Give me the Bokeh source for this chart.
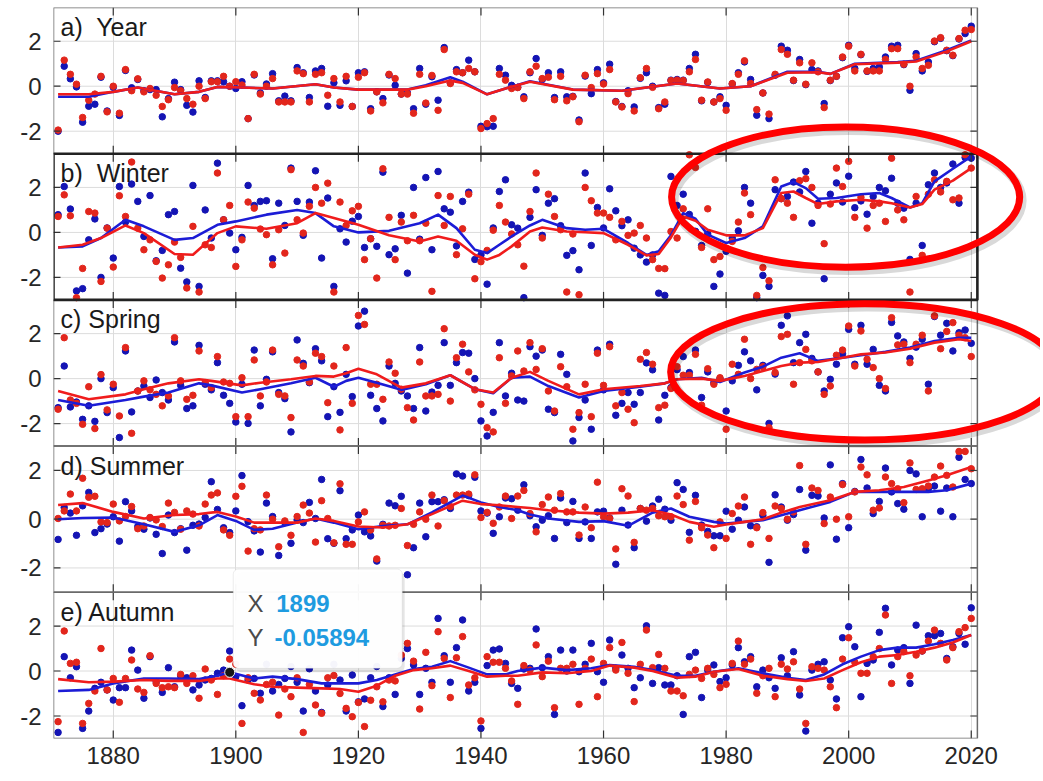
from bokeh.plotting import figure
from bokeh.models import Range1d, LinearAxis, FixedTicker, BoxAnnotation, Label, Grid
from bokeh.embed import file_html
from bokeh.resources import INLINE
from bokeh.core.properties import value

# ---------------- data ----------------
years = list(range(1871, 2021))
x_ticks = [1880, 1900, 1920, 1940, 1960, 1980, 2000, 2020]
y_ticks = [-2, 0, 2]

a_blue = [-2.0, 0.89, 0.33, -0.03, -1.6, -0.89, -0.8, 0.4, -1.1, -0.05,
          -1.3, 0.7, -0.07, 0.3, -0.2, -0.15, -0.15, -1.36, -0.55, 0.18,
          -0.15, -0.85, -1.15, 0.24, -0.5, 0.24, 0.24, 0.2, 0.0, -0.1,
          0.2, -1.44, 0.5, -0.3, 0.1, 0.56, -0.65, -0.44, -0.65, 0.83,
          0.6, -0.5, 0.68, 0.79, -0.89, 0.15, -0.85, 0.24, -0.9, 0.6,
          0.64, -1.0, -0.25, -0.55, 0.5, 0.04, -0.35, -0.3, -1.0, 0.79,
          -0.8, 0.42, -0.62, 1.72, 0.15, 0.74, 0.6, 1.16, 0.64, -1.78,
          -1.8, -1.78, 0.79, 0.49, 0.04, -0.05, -0.47, 0.6, 1.23, 0.3,
          0.6, -0.5, 0.64, -0.47, -0.45, -1.5, 0.45, -0.33, 0.74, 0.15,
          0.98, -0.68, -0.9, -0.2, -0.92, 0.35, 0.6, 0.0, -0.95, -0.8,
          0.27, 0.3, 0.27, 0.79, 1.42, -0.65, 0.17, -0.7, -0.47, -0.85,
          0.1, 0.6, 1.08, 0.3, -1.29, -0.3, -1.44, 0.49, 1.78, 1.6,
          0.25, 1.19, 0.07, 0.74, 0.68, -0.77, 0.25, 0.44, 1.27, 1.82,
          0.79, 1.4, 0.66, 0.79, 0.86, 1.3, 1.78, 1.82, 0.96, -0.18,
          1.45, 0.68, 1.08, 1.98, 2.13, 1.58, 1.36, 2.1, 2.34, 2.67]
a_red = [-1.95, 1.16, 0.53, 0.09, -1.39, -0.62, -0.35, 0.44, -1.14, 0.0,
         -1.2, 0.74, -0.2, 0.33, -0.25, -0.1, -0.4, -0.9, -0.6, -0.06,
         -0.2, -0.55, -0.8, 0.0, -0.55, 0.2, 0.2, 0.44, 0.0, 0.2,
         0.05, -1.44, 0.53, -0.35, 0.0, 0.34, -0.7, -0.7, -0.7, 0.68,
         0.56, -0.7, 0.53, 0.6, -0.4, 0.34, -0.7, 0.44, -0.9, 0.4,
         0.6, -1.1, -0.25, -0.74, 0.53, 0.34, -0.35, -0.35, -1.2, 0.53,
         -0.75, 0.48, -1.07, 1.63, 0.12, 0.64, 0.6, 0.79, 0.64, -1.88,
         -1.66, -1.44, 0.53, 0.27, -0.1, -0.06, -0.55, 0.64, 0.89, 0.34,
         0.4, -0.6, 0.44, -0.65, -0.47, -1.58, 0.49, -0.06, 0.56, 0.1,
         0.74, -0.7, -0.92, -0.33, -1.1, 0.38, 0.79, -0.05, -1.0, -0.7,
         0.25, 0.27, 0.25, 0.64, 1.19, -0.62, 0.19, -0.7, -0.55, -1.07,
         0.12, 0.53, 1.13, 0.12, -1.04, -0.3, -1.24, 0.53, 1.63, 1.42,
         0.27, 1.04, 0.09, 1.04, 0.64, -0.95, 0.27, 0.44, 1.3, 1.78,
         0.68, 1.42, 0.68, 0.68, 0.68, 1.19, 1.67, 1.67, 0.98, 0.0,
         1.3, 0.79, 0.93, 2.01, 2.16, 1.6, 1.38, 2.12, 2.49, 2.52]

b_blue = [0.79, 2.04, 1.04, -2.6, -2.5, -0.33, 0.6, -2.0, 0.2, -1.14,
          2.04, 0.46, 2.15, 1.38, -0.18, 1.64, -1.26, -0.8, 0.79, 0.93,
          -1.59, -2.2, 2.09, -2.4, 1.0, -0.25, 3.08, 0.56, -0.03, -0.77,
          -0.22, 2.09, 1.2, 1.38, 1.41, -1.17, 1.3, 0.31, 2.86, 1.38,
          -0.13, 1.35, 2.74, -1.14, 1.53, -2.4, 0.16, -0.43, 0.5, 0.71,
          -0.67, -0.28, -0.62, 2.68, -0.99, -0.73, 0.76, -1.81, 2.0, -0.3,
          2.44, -0.77, 2.71, 1.05, 0.9, -0.6, 1.38, 1.79, -1.2, -1.0,
          -2.3, 0.2, 1.82, 2.34, 0.34, 0.19, -2.9, 0.67, 1.9, -0.13,
          1.3, 1.5, 0.3, -1.02, -0.81, -1.66, 2.64, -0.58, 1.11, 0.2,
          1.94, 0.96, 0.3, 0.56, -0.7, -1.0, -1.32, -1.0, -2.7, -2.8,
          2.49, 1.2, 1.7, 0.8, 0.05, -0.58, -0.07, -2.4, -1.85, -0.84,
          -0.25, 0.07, 2.0, 1.3, -2.9, -1.91, -2.4, 1.9, 1.5, 1.6,
          2.24, 1.8, 2.71, 0.41, 1.3, -2.06, 1.7, 2.2, 1.35, 2.5,
          1.1, 1.4, 0.81, 1.6, 2.0, 1.85, 2.41, 1.3, 1.08, -1.2,
          1.3, -0.58, 2.12, 2.64, 2.0, 2.2, 3.04, 1.3, 3.33, 3.3]
b_red = [0.71, 1.67, 0.74, -2.9, -1.6, 0.93, 0.86, -2.18, 0.19, -1.54,
         1.63, 0.71, 3.13, 0.19, -0.77, -0.33, -1.29, -2.03, -1.44, -0.43,
         -1.11, -2.47, 0.27, -2.65, -0.55, -0.67, 2.64, 0.56, 1.2, -1.51,
         -0.33, 1.35, 1.08, 0.15, -0.1, -1.44, 0.12, -0.92, 2.79, 0.56,
         -0.03, 1.16, 2.0, 1.3, 2.19, -2.65, 1.35, 0.31, 0.96, 1.16,
         -1.21, -0.28, -2.03, 2.83, 0.67, -1.21, 0.46, -0.37, 0.76, -0.37,
         0.41, -2.62, 1.64, 0.31, 1.6, -0.99, 0.16, 1.7, -2.06, -1.3,
         -0.8, 0.1, 1.2, 0.46, -0.07, -0.55, -1.5, 0.93, 2.64, -0.25,
         1.7, 0.71, 0.12, -2.65, -0.07, -2.77, 2.0, 1.41, 0.86, 0.86,
         0.67, -0.33, 0.49, -0.13, -0.03, 0.31, -0.25, -1.21, -1.6, -1.61,
         0.04, -0.25, 1.05, 3.45, 2.89, -0.67, 1.05, -1.21, -1.07, -0.7,
         -0.4, 0.46, 1.75, 0.79, -2.8, -1.56, -2.15, 2.34, 1.5, 1.3,
         0.67, 2.3, 2.39, 2.0, 1.2, -0.5, 1.26, 2.86, 2.04, 3.16,
         0.67, 1.56, 0.19, 1.2, 1.3, 0.49, 3.3, 1.0, 0.56, -2.65,
         1.6, -1.02, 1.7, 2.34, 1.8, 2.27, 1.45, 1.53, 3.45, 2.86]

c_blue = [-1.29, 0.56, -1.26, -1.04, -1.81, -1.21, -1.9, 0.0, -1.51, -0.4,
          -2.62, 1.23, -1.48, -0.55, -0.33, -0.84, -0.06, -0.62, -0.95, 1.63,
          -0.3, -1.33, -1.21, 1.48, -0.25, -0.5, 0.71, -0.74, -1.1, -1.93,
          -0.25, -1.99, 1.27, -1.21, -0.03, 1.19, -0.62, -0.89, -2.37, 1.72,
          0.68, -0.18, 1.33, 0.79, -1.69, -0.36, -1.5, 0.19, -0.8, 2.34,
          3.0, -0.74, -1.33, -1.88, 0.56, -0.21, -0.55, -0.77, -1.33, 1.38,
          -1.44, -0.6, -0.3, 1.6, -0.3, 0.71, 1.16, 1.13, 0.0, -1.88,
          -2.55, -1.5, 1.6, -0.77, 0.24, -0.95, -1.0, 1.42, 1.0, 1.27,
          -1.36, -1.51, 1.08, 0.19, -2.77, -1.73, -0.95, -2.25, 1.27, -0.5,
          1.53, -1.63, -1.1, -0.62, -1.14, -0.62, 0.7, 0.39, -1.84, -0.74,
          -0.4, 0.4, 0.98, 0.27, 1.27, -0.84, 0.3, -0.18, 0.0, -1.44,
          -0.1, 0.59, 1.19, 0.79, -0.5, 0.59, -1.99, 0.2, 2.37, 2.79,
          0.71, 1.6, 1.97, 0.9, 0.3, -0.55, -0.03, 0.64, 1.1, 2.19,
          0.64, 2.37, 0.64, 1.3, -0.3, -0.55, 2.5, 1.9, 1.63, 0.9,
          1.4, 1.75, -0.25, 2.76, 1.93, 2.46, 1.23, 2.04, 2.16, 1.57]
c_red = [-1.36, 1.82, -0.95, -1.1, -2.03, -0.36, -2.22, 0.18, -1.39, -0.25,
         -1.66, 1.38, -2.43, -0.55, -0.1, -0.5, -0.7, -1.21, -0.77, 1.82,
         -0.1, -0.92, -0.74, 1.23, -0.18, -0.4, 0.98, -0.15, -0.21, -1.69,
         0.04, -1.69, 0.83, -0.77, -0.15, 1.27, -0.7, -0.77, -1.73, 0.83,
         0.56, -0.15, 1.13, 0.98, -1.07, 0.56, -2.28, 1.38, -1.1, 2.81,
         2.41, -0.25, -0.25, -0.92, 0.74, 0.24, -0.47, -1.29, -1.84, 0.74,
         -0.77, -0.77, -0.7, 2.22, -1.0, 0.93, 1.53, 0.3, -0.5, -1.14,
         -2.18, -2.37, 0.93, -1.1, 0.12, 1.23, 0.34, 1.6, 0.41, 1.33,
         -0.55, -1.44, 0.53, -0.36, -2.25, -1.51, -0.25, -1.69, 1.13, -0.3,
         1.42, -1.21, -0.62, -1.36, -1.96, 0.86, 1.16, 0.64, -1.29, -1.18,
         -0.44, 0.53, 0.15, 0.15, 1.08, -1.18, 0.44, -0.25, 0.04, -2.25,
         0.64, 0.19, 1.75, 0.0, 0.41, 0.53, -2.18, 0.27, 1.87, 1.97,
         -0.25, 0.71, 1.3, 0.79, 0.3, -0.7, -0.33, 1.04, 1.27, 2.34,
         0.56, 2.12, 0.86, 0.49, 0.0, -0.44, 2.71, 1.5, 1.53, 0.71,
         1.53, 1.93, -0.55, 2.79, 1.33, 2.1, 2.49, 1.93, 1.82, 0.98]

d_blue = [-0.83, 0.48, 0.25, -0.66, 0.55, 1.1, -0.55, -0.39, -0.2, 0.1,
          -0.9, 0.72, 0.34, -0.3, -0.41, 0.05, -0.62, -1.41, 0.17, -0.55,
          -0.39, -1.27, -0.25, -0.2, 0.07, 1.54, 0.4, -0.35, -0.55, 0.34,
          1.79, -0.1, -0.48, -1.35, 0.66, 0.11, -1.49, -0.14, -0.99, -0.03,
          -0.14, 0.69, 0.03, 1.63, -0.8, -0.99, 1.17, -0.8, -0.44, 0.17,
          -0.52, -0.69, -1.72, -0.21, 0.66, 0.55, 0.94, -2.28, -1.17, 0.66,
          -0.72, 0.72, 0.72, 0.8, 0.44, 1.86, 1.77, 0.97, 1.72, 0.34,
          0.25, -0.58, 0.1, 0.87, 0.84, 0.37, 1.41, 0.14, -0.31, -0.04,
          0.14, -0.79, 0.87, -0.14, 0.73, -0.79, -0.11, -0.79, 0.3, 0.33,
          0.05, -1.85, 0.37, -0.24, -1.17, 0.44, -0.08, 0.54, 0.82, 0.41,
          -0.04, 1.5, 1.22, -0.54, 0.98, -0.24, -0.5, -0.68, -0.68, 0.33,
          -0.41, -0.04, 0.5, -0.27, -0.31, 0.16, -1.77, 1.0, 0.5, -0.04,
          0.19, 1.22, -1.27, 0.98, 0.95, 0.05, 2.23, -0.82, 1.46, -0.35,
          1.14, 2.45, 1.28, 0.23, 0.73, 2.1, 1.12, 0.64, 0.41, 2.0,
          1.86, 0.1, 1.25, 1.36, 0.33, 1.28, 0.1, 2.54, 1.63, 1.46]
d_red = [0.03, 0.34, 1.03, 0.34, 1.68, 0.9, 0.94, -0.11, -0.14, 0.62,
         -0.07, 0.11, 0.52, -0.39, -0.28, 0.07, -0.03, -0.3, 0.66, 0.28,
         -0.41, 0.34, 0.21, -0.28, 0.62, 0.99, 1.08, -0.44, -0.66, 0.94,
         1.35, -1.31, -0.39, -0.44, 0.99, 0.0, -1.13, -0.07, -0.66, 0.11,
         0.58, 0.25, -0.94, 0.76, 0.03, -0.97, 1.45, -1.03, -1.03, -0.11,
         0.3, -0.44, -1.63, -0.25, -0.28, -0.25, 0.44, -1.08, -0.21, 0.3,
         0.0, 0.99, -0.28, 0.76, 0.52, 0.99, 0.99, 1.03, 1.82, 0.07,
         0.28, -0.17, 0.5, 0.95, 0.03, 0.95, 1.18, 0.23, -0.52, 0.6,
         0.91, 0.37, 1.05, 0.3, 0.3, -0.65, 0.5, -0.35, 1.52, 0.1,
         0.03, -1.22, 1.25, 0.95, -0.95, 0.44, 0.37, 0.44, 0.14, 0.1,
         0.1, 0.95, 0.6, -0.86, 0.73, -0.35, -0.65, -1.17, -0.11, -0.79,
         0.23, 0.54, 0.91, -1.03, -0.35, 0.27, -0.79, 0.54, 0.44, 0.0,
         0.3, 2.2, -1.03, 1.28, 1.18, -0.18, 0.91, 0.0, 1.42, 0.1,
         1.12, 2.14, 1.82, 0.37, 0.46, 1.73, 1.46, 1.25, 0.68, 2.31,
         1.22, 1.25, 1.36, 1.73, 2.18, 1.8, 1.32, 2.78, 2.78, 2.07]

e_blue = [-2.73, 0.64, -0.3, 0.19, -2.55, -1.78, -0.77, -0.5, -0.84, -1.29,
          -0.74, -0.74, 0.93, 0.04, -1.21, 0.64, -0.47, -0.95, 0.15, -0.7,
          -0.21, -0.3, -0.84, -0.62, -0.4, -0.33, -0.1, 0.04, 0.89, -0.25,
          -1.54, -0.4, -0.33, -0.99, 0.3, -0.89, -0.6, -0.33, 0.2, -0.5,
          -1.78, 0.1, -0.89, -1.84, -0.62, 0.3, -0.4, -1.78, -0.18, -1.37,
          -1.24, -0.3, 0.2, -1.58, -0.3, -1.04, 0.56, 1.0, 0.27, -1.04,
          0.12, -0.5, 2.34, 0.68, -0.5, 1.04, 2.27, -0.89, -0.5, -2.55,
          0.24, 0.93, 0.98, 0.34, -0.55, -0.77, 0.09, 0.12, 1.87, 0.15,
          0.64, -1.93, 0.93, 0.0, 0.93, -0.03, 0.3, 1.23, -0.03, -0.5,
          1.38, 0.12, 0.71, 0.12, -0.74, -0.3, 2.01, -0.55, 0.15, -0.62,
          -0.62, -0.21, -1.93, 0.64, 0.83, -1.18, 0.04, 0.27, -0.47, -0.3,
          0.27, 1.04, 0.41, 0.64, -0.7, 0.04, -0.3, -0.77, 0.59, -0.21,
          0.86, -1.07, -2.67, 0.04, 0.3, 0.41, -0.4, -1.24, 1.48, 1.97,
          1.08, -1.14, 0.34, 0.49, 1.72, 2.79, 0.27, 0.93, 1.04, -0.55,
          2.04, 0.89, 1.57, 1.57, 1.67, 0.56, 1.08, 1.67, 1.19, 2.81]
e_red = [-2.25, 1.78, 0.34, 0.39, -2.33, -1.44, -0.89, 1.0, -0.84, -0.33,
         -1.39, -0.33, 0.49, -0.8, -0.95, 0.68, -0.55, -0.74, -0.7, -0.74,
         -0.15, -0.55, -0.21, -1.21, 0.09, -0.4, -1.04, -0.21, 0.53, 0.3,
         -2.33, -0.3, -0.99, -1.29, -0.6, -0.5, -1.96, -0.8, -1.14, -0.3,
         -2.73, -0.6, -1.51, -1.88, -0.3, -0.2, -1.0, -1.66, -2.03, -1.4,
         -2.47, -1.3, -0.7, -1.37, -0.4, -0.44, 0.71, 1.23, 0.44, -1.69,
         0.83, -0.65, 1.75, 0.56, -1.18, 0.59, 1.53, -0.62, -0.3, -2.22,
         0.64, 0.39, 0.39, 0.12, -0.44, -1.48, 0.24, 0.04, 1.16, -0.25,
         0.44, -1.63, 0.12, 0.12, 0.3, -1.48, 0.12, 0.53, -1.14, 0.34,
         1.04, 0.04, 1.27, -0.1, -1.36, 0.3, 1.82, 0.15, 0.74, 0.12,
         -0.89, -0.89, -1.1, -0.15, 0.04, -0.33, 0.12, -0.15, -0.74, -0.59,
         0.34, 1.33, 0.3, 0.53, -0.99, -0.21, 0.12, -1.14, 0.3, 0.09,
         0.41, -0.8, -2.33, 0.19, 0.12, 0.04, -0.7, -1.63, 0.53, 1.48,
         0.39, -0.1, -0.1, 0.64, 1.0, 2.49, -0.55, 0.64, 0.86, -0.21,
         0.71, 0.89, 1.33, 1.82, 1.23, 0.49, 1.04, 1.75, 1.93, 2.34]

# smoothed curves (read at knot years)
a_knots = [1871, 1876, 1880, 1884, 1890, 1894, 1897, 1901, 1906, 1913, 1916, 1920, 1928, 1931, 1935, 1937,
           1941, 1945, 1948, 1955, 1963, 1972, 1979, 1984, 1990, 1995, 1997, 2001, 2008, 2011, 2016, 2020]
a_blue_s = [-0.47, -0.47, -0.25, -0.06, -0.36, -0.25, -0.03, -0.06, -0.1, 0.09, -0.06, -0.15, -0.15, 0.04, 0.4, 0.2,
            -0.36, -0.02, 0.22, -0.15, -0.2, 0.12, -0.1, 0.0, 0.64, 0.64, 0.55, 1.0, 1.07, 1.13, 1.6, 2.04]
a_red_s = [-0.36, -0.36, -0.25, -0.06, -0.36, -0.25, -0.03, -0.06, -0.1, 0.09, -0.06, -0.15, -0.15, 0.0, 0.25, 0.15,
           -0.36, -0.02, 0.2, -0.15, -0.2, 0.12, -0.1, 0.0, 0.6, 0.62, 0.55, 0.98, 1.05, 1.1, 1.55, 2.0]

b_knots = [1871, 1875, 1878, 1882, 1885, 1890, 1893, 1897, 1900, 1905, 1910, 1913, 1916, 1920, 1925, 1930, 1933,
           1936, 1939, 1941, 1943, 1945, 1948, 1950, 1954, 1957, 1960, 1964, 1967, 1969, 1971, 1973, 1975, 1977,
           1980, 1983, 1986, 1989, 1991, 1993, 1995, 1998, 2002, 2005, 2007, 2010, 2012, 2014, 2017, 2020]
b_blue_s = [-0.67, -0.62, -0.25, 0.56, 0.27, -0.33, -0.25, 0.34, 0.49, 0.79, 1.0, 0.86, 0.27, 0.0, 0.07, 0.41, 0.79,
            0.19, -0.77, -0.92, -0.55, -0.18, 0.31, 0.56, 0.19, 0.12, 0.16, -0.47, -1.0, -0.84, -0.13, 0.86, 0.61,
            -0.1, -0.47, -0.25, 0.27, 2.04, 2.24, 1.97, 1.5, 1.53, 1.7, 1.75, 1.53, 1.11, 1.3, 2.27, 2.83, 3.38]
b_red_s = [-0.67, -0.55, -0.25, 0.31, -0.03, -0.96, -0.99, -0.03, 0.27, 0.16, 0.41, 0.86, 0.64, 0.34, -0.13, -0.4,
           -0.18, -0.37, -0.99, -1.21, -1.0, -0.62, 0.04, 0.22, 0.04, 0.01, -0.03, -0.55, -1.02, -0.96, -0.22, 0.71,
           0.52, 0.12, -0.13, -0.13, 0.19, 1.75, 1.82, 1.53, 1.26, 1.38, 1.45, 1.38, 1.3, 1.11, 1.26, 1.9, 2.3, 2.86]

c_knots = [1871, 1876, 1882, 1885, 1889, 1894, 1896, 1901, 1904, 1909, 1913, 1916, 1918, 1920, 1923, 1927, 1931,
           1935, 1939, 1942, 1945, 1948, 1951, 1956, 1960, 1966, 1970, 1972, 1976, 1979, 1983, 1986, 1989, 1992,
           1995, 1999, 2002, 2006, 2010, 2014, 2018, 2020]
c_blue_s = [-0.95, -1.21, -0.95, -0.8, -0.62, -0.21, -0.3, -0.62, -0.47, -0.21, 0.04, -0.36, -0.1, 0.04, -0.18, -0.5,
            -0.25, 0.15, -0.47, -0.65, 0.04, 0.09, -0.33, -0.84, -0.55, -0.36, -0.21, -0.03, 0.04, -0.15, 0.27, 0.53,
            0.93, 1.13, 0.79, 0.93, 1.04, 1.19, 1.38, 1.67, 1.82, 1.82]
c_red_s = [-0.55, -0.92, -0.7, -0.47, -0.21, -0.03, -0.1, -0.3, -0.18, -0.03, 0.12, 0.09, 0.24, 0.44, 0.19, -0.4,
           -0.21, 0.15, -0.47, -0.62, 0.04, 0.3, -0.1, -0.7, -0.47, -0.33, -0.21, -0.03, 0.0, -0.1, 0.12, 0.34, 0.56,
           0.71, 0.74, 0.93, 1.08, 1.16, 1.33, 1.6, 1.75, 1.67]

d_knots = [1871, 1875, 1880, 1885, 1890, 1894, 1897, 1900, 1903, 1906, 1910, 1913, 1916, 1920, 1924, 1928, 1932,
           1937, 1940, 1943, 1946, 1948, 1951, 1956, 1960, 1964, 1968, 1971, 1974, 1978, 1980, 1983, 1986, 1989,
           1992, 1997, 2001, 2005, 2009, 2013, 2016, 2020]
d_blue_s = [0.0, 0.05, 0.07, -0.21, -0.52, -0.25, 0.17, -0.07, -0.44, -0.39, -0.14, 0.03, -0.14, -0.41, -0.28, -0.21,
            0.28, 0.97, 0.69, 0.5, 0.37, 0.19, 0.03, -0.11, -0.08, -0.27, 0.27, 0.44, 0.1, -0.11, -0.18, -0.11, -0.04,
            0.16, 0.37, 0.71, 1.12, 1.12, 1.12, 1.12, 1.19, 1.46]
d_red_s = [0.58, 0.66, 0.3, 0.03, 0.17, 0.21, 0.3, 0.11, -0.14, -0.14, -0.14, 0.03, -0.07, -0.3, -0.34, -0.21, 0.21,
           0.76, 0.62, 0.57, 0.5, 0.46, 0.37, 0.27, 0.23, 0.27, 0.37, 0.19, -0.11, -0.31, -0.22, -0.11, 0.0, 0.27,
           0.5, 0.78, 1.12, 1.19, 1.32, 1.59, 1.8, 2.14]

e_knots = [1871, 1876, 1880, 1885, 1889, 1894, 1897, 1899, 1903, 1906, 1910, 1914, 1917, 1920, 1923, 1926, 1929,
           1932, 1935, 1938, 1941, 1944, 1946, 1950, 1954, 1958, 1961, 1965, 1968, 1972, 1975, 1978, 1982, 1986,
           1990, 1993, 1996, 1999, 2002, 2005, 2008, 2011, 2014, 2017, 2020]
e_blue_s = [-0.89, -0.84, -0.55, -0.33, -0.33, -0.36, -0.21, -0.05894, -0.33, -0.25, -0.36, -0.55, -0.55, -0.55,
            -0.4, -0.15, 0.09, 0.19, 0.44, 0.15, -0.15, -0.15, 0.0, 0.15, 0.04, 0.12, 0.27, 0.19, 0.04, -0.21, -0.21,
            -0.03, 0.12, -0.1, -0.3, -0.4, -0.15, 0.3, 0.64, 0.93, 1.04, 1.04, 1.19, 1.38, 1.6]
e_red_s = [-0.36, -0.5, -0.47, -0.4, -0.44, -0.44, -0.33, -0.33, -0.59, -0.7, -0.74, -0.77, -0.8, -0.92, -0.65, -0.21,
           0.04, 0.12, 0.24, 0.0, -0.25, -0.21, -0.21, -0.06, -0.1, 0.0, 0.24, 0.15, 0.0, -0.3, -0.25, -0.03, 0.09,
           -0.21, -0.36, -0.44, -0.33, 0.04, 0.39, 0.64, 0.71, 0.86, 1.04, 1.27, 1.6]

tip_x = 1899
tip_y = -0.05894

# ---------------- layout ----------------
for arr in (a_blue, a_red, b_blue, b_red, c_blue, c_red, d_blue, d_red, e_blue, e_red):
    assert len(arr) == len(years), len(arr)

X_START, X_END = 1870.25, 2021.0
PX_PER_YEAR = 6.12857
W, H = 1040, 778
LEFT, TOP = 53, 7
N = 5
PANEL_PX = 146.2
BOTTOM = H - TOP - int(round(N * PANEL_PX))

FONT = "Liberation Sans"
BLUE_PT, RED_PT = "#1414b4", "#e2261c"
BLUE_LN, RED_LN = "#1c1cd6", "#f01c1c"

x_frame_end = X_START + (W - LEFT) / PX_PER_YEAR

p = figure(width=W, height=H, output_backend="svg", toolbar_location=None,
           x_range=Range1d(X_START, x_frame_end), y_range=Range1d(0, N * PANEL_PX),
           x_axis_type=None, y_axis_type=None,
           min_border_left=LEFT, min_border_right=0, min_border_top=TOP, min_border_bottom=BOTTOM)
p.outline_line_color = None
p.background_fill_color = "white"
p.border_fill_color = "white"

panels = [
    ("a", "a)\u00a0 Year", -3.0, 3.5, a_blue, a_red, a_knots, a_blue_s, a_red_s, 2.63, "#6a6a6a", 1.5),
    ("b", "b)\u00a0 Winter", -3.0, 3.5, b_blue, b_red, b_knots, b_blue_s, b_red_s, 2.64, "#222222", 2.6),
    ("c", "c) Spring", -3.0, 3.5, c_blue, c_red, c_knots, c_blue_s, c_red_s, 2.64, "#6a6a6a", 1.5),
    ("d", "d) Summer", -3.0, 3.0, d_blue, d_red, d_knots, d_blue_s, d_red_s, 2.19, "#6a6a6a", 1.5),
    ("e", "e) Autumn", -3.0, 3.5, e_blue, e_red, e_knots, e_blue_s, e_red_s, 2.61, "#6a6a6a", 1.5),
]

# per-panel y ranges stacked in one frame
ytick_pos = []
overrides = {}
for k, (name, title, lo, hi, *_rest) in enumerate(panels):
    span = hi - lo
    p.extra_y_ranges[name] = Range1d(start=lo - (N - 1 - k) * span, end=hi + k * span)
    for v in y_ticks:
        pos = round(PANEL_PX * (N - 1 - k) + (v - lo) / span * PANEL_PX, 4)
        ytick_pos.append(pos)
        overrides[pos] = str(v)

# x grid
p.add_layout(Grid(dimension=0, ticker=FixedTicker(ticks=x_ticks), grid_line_color="#dcdcdc", grid_line_width=1))

# axes
xaxis = LinearAxis(ticker=FixedTicker(ticks=x_ticks), major_tick_in=0, major_tick_out=0,
                   major_tick_line_color=None, minor_tick_line_color=None, axis_line_color=None,
                   major_label_standoff=8, major_label_text_font_size="24px",
                   major_label_text_font=FONT, major_label_text_color="#262626")
p.add_layout(xaxis, "below")
yaxis = LinearAxis(ticker=FixedTicker(ticks=ytick_pos), major_label_overrides=overrides,
                   major_tick_in=0, major_tick_out=0, major_tick_line_color=None,
                   minor_tick_line_color=None, axis_line_color=None, major_label_standoff=12,
                   major_label_text_font_size="24px", major_label_text_font=FONT,
                   major_label_text_color="#262626")
p.add_layout(yaxis, "left")

# horizontal grid per panel
for name, title, lo, hi, *_rest in panels:
    p.segment(x0=[X_START] * len(y_ticks), x1=[X_END] * len(y_ticks), y0=y_ticks, y1=y_ticks,
              y_range_name=name, line_color="#dcdcdc", line_width=1)

# data
for name, title, lo, hi, blue, red, knots, bs, rs, ty, bc, bw in panels:
    p.scatter(years, blue, size=6.5, fill_color=BLUE_PT, line_color=BLUE_PT, y_range_name=name)
    p.scatter(years, red, size=6.5, fill_color=RED_PT, line_color=RED_PT, y_range_name=name)
    p.line(knots, bs, line_color=BLUE_LN, line_width=2.6, y_range_name=name, line_join="round")
    p.line(knots, rs, line_color=RED_LN, line_width=2.6, y_range_name=name, line_join="round")

# panel boxes, inward ticks, titles
tick_len_x = 7 / PX_PER_YEAR
order = [0, 2, 3, 4, 1]
for k in order:
    name, title, lo, hi, blue, red, knots, bs, rs, ty, bc, bw = panels[k]
    ppu = PANEL_PX / (hi - lo)
    tl = 8 / ppu
    p.segment(x0=x_ticks, x1=x_ticks, y0=[hi] * len(x_ticks), y1=[hi - tl] * len(x_ticks),
              y_range_name=name, line_color="#333333", line_width=1.2)
    p.segment(x0=x_ticks, x1=x_ticks, y0=[lo] * len(x_ticks), y1=[lo + tl] * len(x_ticks),
              y_range_name=name, line_color="#333333", line_width=1.2)
    p.segment(x0=[X_START] * 3, x1=[X_START + tick_len_x] * 3, y0=y_ticks, y1=y_ticks,
              y_range_name=name, line_color="#333333", line_width=1.2)
    p.segment(x0=[X_END] * 3, x1=[X_END - tick_len_x] * 3, y0=y_ticks, y1=y_ticks,
              y_range_name=name, line_color="#333333", line_width=1.2)
    p.quad(left=[X_START], right=[X_END], bottom=[lo], top=[hi], fill_color=None,
           line_color=bc, line_width=bw, y_range_name=name)
    p.text(x=[1871.4], y=[ty], text=[title], y_range_name=name, text_font=value(FONT),
           text_font_size="25px", text_baseline="middle", text_align="left", text_color="#1a1a1a")

# red highlight ellipses (with soft shadow)
for (cx, cy, ew, eh, rn) in [(1999.5, 1.57, 56.8, 6.23, "b"), (2002.6, 0.30, 63.3, 6.06, "c")]:
    p.ellipse(x=[cx + 0.4], y=[cy - 0.15], width=[ew], height=[eh], fill_color=None,
              line_color="#000000", line_alpha=0.15, line_width=9, y_range_name=rn)
    p.ellipse(x=[cx], y=[cy], width=[ew], height=[eh], fill_color=None,
              line_color="#ff0000", line_width=7, y_range_name=rn)

# data tip marker
p.scatter([tip_x], [tip_y], size=10, fill_color="#151515", line_color="#f0f0f0", line_width=1,
          y_range_name="e")

# data tip box
p.add_layout(BoxAnnotation(left=1899.95, right=1927.55, bottom=-0.05, top=4.4, y_range_name="e",
                           fill_color="#000000", fill_alpha=0.10, line_color=None, border_radius=6))
p.add_layout(BoxAnnotation(left=1899.58, right=1927.16, bottom=0.12, top=4.53, y_range_name="e",
                           fill_color="#ffffff", fill_alpha=0.96, line_color="#c4c4c4", line_width=1,
                           border_radius=5))
for txt, xx, yy, col, style in [("X", 1901.9, 3.02, "#4a4a4a", "normal"),
                                (str(tip_x), 1906.6, 3.02, "#1e9be0", "bold"),
                                ("Y", 1901.9, 1.48, "#4a4a4a", "normal"),
                                ("%.5f" % tip_y, 1906.3, 1.48, "#1e9be0", "bold")]:
    p.add_layout(Label(x=xx, y=yy, y_range_name="e", text=txt, text_font=FONT, text_font_size="24px",
                       text_color=col, text_font_style=style, text_baseline="middle", text_align="left"))

open("out.html", "w").write(file_html(p, INLINE))
